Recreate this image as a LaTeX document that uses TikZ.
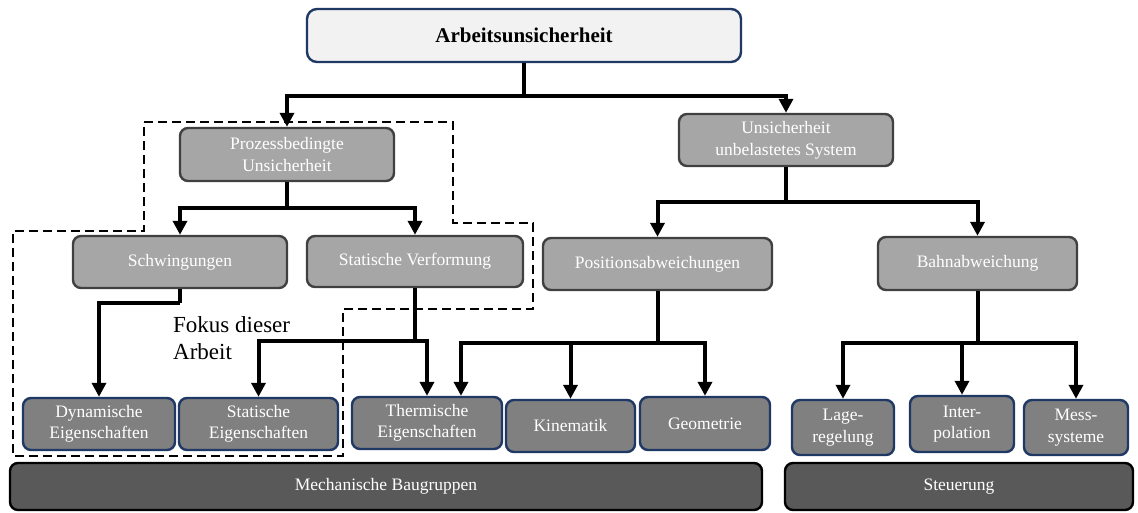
\documentclass[tikz,border=0pt]{standalone}
\usepackage{fontspec}
\setmainfont{Liberation Serif}
\usetikzlibrary{arrows.meta,calc}
\definecolor{titlefill}{HTML}{F2F2F2}
\definecolor{navy}{HTML}{1F3864}
\definecolor{midfill}{HTML}{A6A6A6}
\definecolor{midborder}{HTML}{404040}
\definecolor{lowfill}{HTML}{808080}
\definecolor{basefill}{HTML}{595959}
\begin{document}
\begin{tikzpicture}[x=1pt,y=-1pt,
  boxbase/.style={rounded corners=8pt, line width=2.4pt, inner sep=0pt, align=center,
    text=white, font=\fontsize{17.5}{22}\selectfont},
  titlebox/.style={boxbase, rounded corners=10pt, fill=titlefill, draw=navy, text=black,
    font=\fontsize{21}{24}\selectfont\bfseries},
  midbox/.style={boxbase, fill=midfill, draw=midborder},
  lowbox/.style={boxbase, fill=lowfill, draw=navy, font=\fontsize{17.5}{21.5}\selectfont},
  basebox/.style={boxbase, fill=basefill, draw=black},
  arr/.style={line width=4pt, -{Triangle[width=14pt,length=14pt]}},
  conn/.style={line width=4pt},
  focus/.style={line width=2.8pt, dash pattern=on 9pt off 5pt}
]
\useasboundingbox (0,0) rectangle (1138,512);
\fill[white] (0,0) rectangle (1138,512);

% focus outline
\draw[focus] (144,122) -- (453,122) -- (453,223) -- (533,223) -- (533,309)
  -- (343,309) -- (343,456) -- (13,456) -- (13,231) -- (144,231) -- cycle;

% nodes
\node[titlebox, minimum width=434pt, minimum height=53pt] (title) at (524,35.5) {Arbeitsunsicherheit};
\node[midbox, minimum width=214pt, minimum height=53pt] (prozess) at (287,154.5) {Prozessbedingte\\Unsicherheit};
\node[midbox, minimum width=214pt, minimum height=52pt] (unsich) at (786,140) {Unsicherheit\\unbelastetes System};
\node[midbox, minimum width=214pt, minimum height=52pt] (schw) at (180,262) {Schwingungen};
\node[midbox, minimum width=216pt, minimum height=51pt] (statv) at (415,261.5) {Statische Verformung};
\node[midbox, minimum width=229pt, minimum height=52pt] (pos) at (657.5,264) {Positionsabweichungen};
\node[midbox, minimum width=199pt, minimum height=53pt] (bahn) at (977.5,263.5) {Bahnabweichung};

\node[lowbox, minimum width=152pt, minimum height=52pt] (dyn) at (99,424) {Dynamische\\Eigenschaften};
\node[lowbox, minimum width=159pt, minimum height=52pt] (stateig) at (258.5,424) {Statische\\Eigenschaften};
\node[lowbox, minimum width=150pt, minimum height=52pt] (therm) at (427,423) {Thermische\\Eigenschaften};
\node[lowbox, minimum width=129pt, minimum height=52pt] (kin) at (570.5,426) {Kinematik};
\node[lowbox, minimum width=130pt, minimum height=53pt] (geo) at (705,423.5) {Geometrie};
\node[lowbox, minimum width=102pt, minimum height=55pt] (lage) at (843,427.5) {Lage-\\regelung};
\node[lowbox, minimum width=104pt, minimum height=56pt] (inter) at (962,424) {Inter-\\polation};
\node[lowbox, minimum width=104pt, minimum height=55pt] (mess) at (1076,427.5) {Mess-\\systeme};

\node[basebox, minimum width=752pt, minimum height=47pt] (mech) at (386,486.5) {Mechanische Baugruppen};
\node[basebox, minimum width=348pt, minimum height=47pt] (steu) at (959,486.5) {Steuerung};

\node[anchor=north west, inner sep=0pt, align=left, font=\fontsize{23}{27}\selectfont] (fokus)
  at (173,316) {Fokus dieser\\Arbeit};

% connectors
\coordinate (jt) at (524,96);
\draw[conn] (title.south) -- (jt);
\draw[arr] (jt) -| (prozess.north);
\draw[arr] (jt) -| (unsich.north);

\coordinate (jpr) at (287,208);
\draw[conn] (prozess.south) -- (jpr);
\draw[arr] (jpr) -| (schw.north);
\draw[arr] (jpr) -| (statv.north);

\coordinate (jun) at (786,202);
\draw[conn] (unsich.south) -- (jun);
\draw[arr] (jun) -| (pos.north);
\draw[arr] (jun) -| (bahn.north);

\coordinate (jsw) at (180,303);
\draw[conn] (schw.south) -- (jsw);
\draw[arr] (jsw) -| (dyn.north);

\coordinate (jsv) at (415,341);
\draw[conn] (statv.south) -- (jsv);
\draw[arr] (jsv) -| (stateig.north);
\draw[arr] (jsv) -| (therm.north);

\coordinate (jpo) at (657.5,343);
\draw[conn] (pos.south) -- (jpo);
\draw[arr] (jpo) -| ($(therm.north)+(34,0)$);
\draw[arr] (jpo) -| (kin.north);
\draw[arr] (jpo) -| (geo.north);

\coordinate (jba) at (977.5,343);
\draw[conn] (bahn.south) -- (jba);
\draw[arr] (jba) -| (lage.north);
\draw[arr] (jba) -| (inter.north);
\draw[arr] (jba) -| (mess.north);
\end{tikzpicture}
\end{document}
